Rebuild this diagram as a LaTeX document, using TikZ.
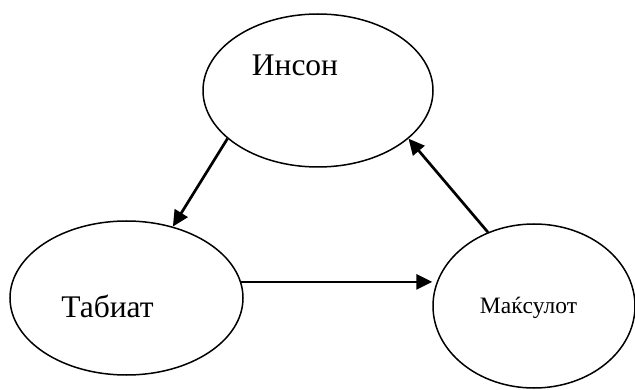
\documentclass[tikz,border=0pt]{standalone}
\usepackage{fontspec}
\setmainfont{Liberation Serif}
\usetikzlibrary{shapes.geometric,arrows.meta}
\begin{document}
\begin{tikzpicture}[x=1pt,y=-1pt,
  oval/.style={draw,ellipse,line width=1.5pt,inner sep=0pt},
  arr/.style={line width=2.7pt,-{Triangle[length=16pt,width=15pt]}}]
\useasboundingbox (0,0) rectangle (635,390);
\node[oval,minimum width=230pt,minimum height=153pt] (inson) at (318,90.5) {};
\node[oval,minimum width=233pt,minimum height=154pt] (tabiat) at (126.5,298) {};
\node[oval,minimum width=202pt,minimum height=164pt] (maxsulot) at (534,306) {};
\node[anchor=base,font=\fontsize{31.5}{36}\selectfont] (insonT) at (295,76) {Инсон};
\node[anchor=base,font=\fontsize{31.5}{36}\selectfont] (tabiatT) at (107.5,318) {Табиат};
\node[anchor=base,font=\fontsize{23.5}{28}\selectfont] (maxsulotT) at (528.5,314) {Маќсулот};
\draw[arr] (inson.208) -- (tabiat.57);
\draw[arr] (tabiat.8) -- (tabiat.8 -| maxsulot.west);
\draw[arr] (maxsulot.122) -- (inson.332);
\end{tikzpicture}
\end{document}
